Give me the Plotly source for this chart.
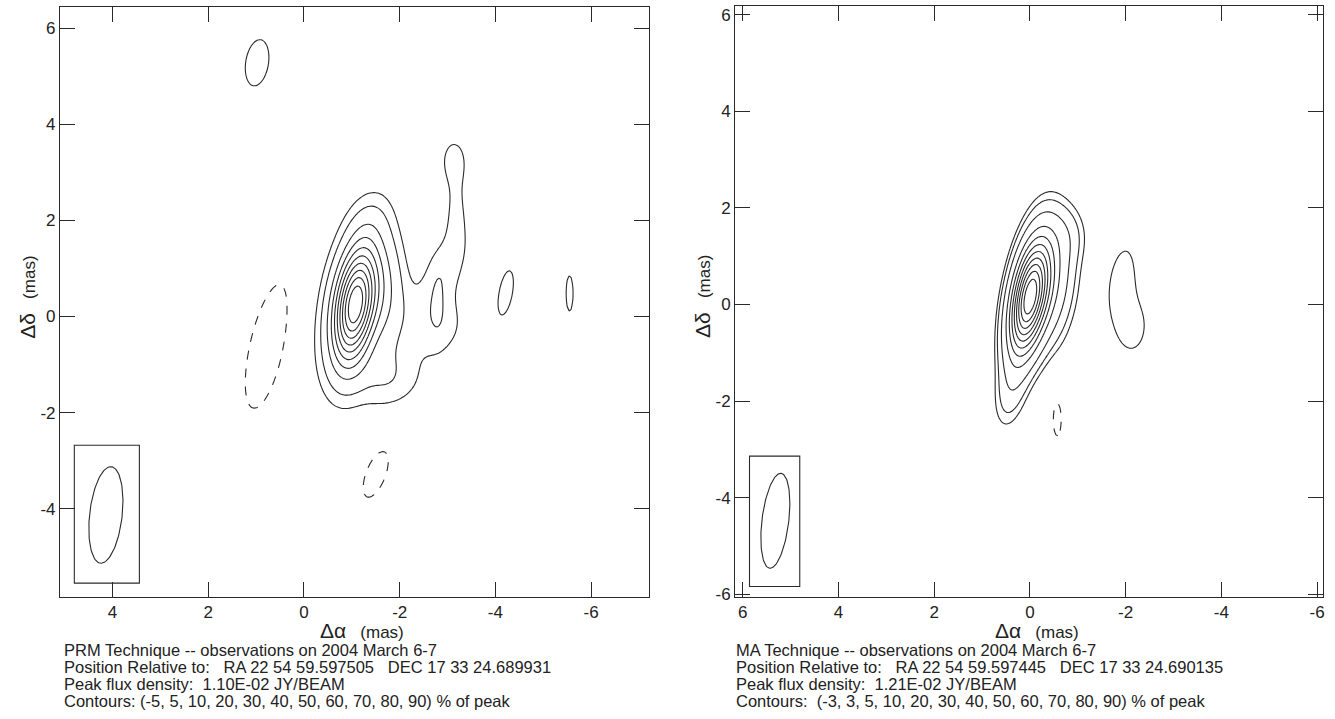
import numpy as np
import plotly.graph_objects as go

W, H = 1335, 719

# ---------------- data: source components ----------------
# Left map (PRM technique): x, y (mas), amplitude (% of peak), sigma major, sigma minor (mas), tilt (deg)
prm_x    = [-1.07, -0.95, -1.35, -1.72, -2.72, -2.80, -2.95, -3.18, -3.13, -1.75, 0.98, -4.22, -5.55, 0.76, -1.50]
prm_y    = [0.25, 0.10, 1.90, 0.50, -0.15, 0.30, 1.05, 2.20, 3.25, -1.30, 5.28, 0.50, 0.48, -0.60, -3.28]
prm_amp  = [87, 10, 6, 14, 7.5, 3.0, 7.0, 6.0, 6.5, 7.5, 7, 6.5, 5.3, -7, -7]
prm_smaj = [0.80, 1.15, 0.50, 0.90, 0.55, 0.50, 0.60, 0.60, 0.38, 0.45, 0.57, 0.60, 0.90, 1.58, 0.60]
prm_smin = [0.28, 0.52, 0.30, 0.28, 0.50, 0.12, 0.30, 0.16, 0.22, 0.55, 0.28, 0.18, 0.18, 0.43, 0.24]
prm_tilt = [8, 8, 15, 0, 0, 0, 20, 0, 0, 0, 9, 10, 0, 13, 21]

# Right map (MA technique)
ma_x    = [0.02, -0.40, -0.75, 0.40, -1.93, -2.12, -0.57]
ma_y    = [0.12, 0.50, 1.45, -1.80, 0.70, -0.45, -2.37]
ma_amp  = [93, 18, 4, 6, 3.4, 3.7, -3.7]
ma_smaj = [0.77, 0.85, 0.40, 0.55, 0.60, 0.72, 0.56]
ma_smin = [0.24, 0.33, 0.30, 0.22, 0.24, 0.42, 0.135]
ma_tilt = [10, 5, 0, 10, 10, 0, 0]

# Contour levels (% of peak)
prm_levels_neg = [-5]
prm_levels_low = [5]
prm_levels_main = [10, 20, 30, 40, 50, 60, 70, 80, 90]
ma_levels_neg = [-3]
ma_levels_low = [3, 5]
ma_levels_main = [10, 20, 30, 40, 50, 60, 70, 80, 90]

# Restoring beams: centre x, y, semi-major, semi-minor, tilt
prm_beam = dict(x=4.14, y=-4.13, a=1.01, b=0.34, tilt=6.5)
ma_beam = dict(x=5.32, y=-4.48, a=0.99, b=0.28, tilt=7.0)

SP = "\u00a0"
prm_text = ["PRM Technique -- observations on 2004 March 6-7",
            "Position Relative to:" + SP * 3 + "RA 22 54 59.597505" + SP * 3 + "DEC 17 33 24.689931",
            "Peak flux density:" + SP * 2 + "1.10E-02 JY/BEAM",
            "Contours: (-5, 5, 10, 20, 30, 40, 50, 60, 70, 80, 90) % of peak"]
ma_text = ["MA Technique -- observations on 2004 March 6-7",
           "Position Relative to:" + SP * 3 + "RA 22 54 59.597445" + SP * 3 + "DEC 17 33 24.690135",
           "Peak flux density:" + SP * 2 + "1.21E-02 JY/BEAM",
           "Contours:" + SP * 2 + "(-3, 3, 5, 10, 20, 30, 40, 50, 60, 70, 80, 90) % of peak"]

prm_xticks = [4, 2, 0, -2, -4, -6]
prm_yticks = [6, 4, 2, 0, -2, -4]
ma_xticks = [6, 4, 2, 0, -2, -4, -6]
ma_yticks = [6, 4, 2, 0, -2, -4, -6]


def field(xs, ys, cx, cy, amp, smaj, smin, tilt):
    X, Y = np.meshgrid(xs, ys)
    Z = np.zeros_like(X)
    for x0, y0, a, sa, sb, t in zip(cx, cy, amp, smaj, smin, tilt):
        th = np.radians(t)
        dx, dy = X - x0, Y - y0
        u = -dx * np.sin(th) + dy * np.cos(th)
        v = dx * np.cos(th) + dy * np.sin(th)
        Z += a * np.exp(-0.5 * ((u / sa) ** 2 + (v / sb) ** 2))
    return 100.0 * Z / Z.max()


def levels_spec(levels):
    if len(levels) == 1:
        return dict(start=levels[0], end=levels[0] + 0.5 * abs(levels[0]), size=10)
    step = levels[1] - levels[0]
    return dict(start=levels[0], end=levels[-1], size=step)


def beam_xy(b):
    t = np.linspace(0, 2 * np.pi, 121)
    th = np.radians(b["tilt"])
    ux, uy = -np.sin(th), np.cos(th)
    vx, vy = np.cos(th), np.sin(th)
    xs = b["x"] + b["a"] * np.cos(t) * ux + b["b"] * np.sin(t) * vx
    ys = b["y"] + b["a"] * np.cos(t) * uy + b["b"] * np.sin(t) * vy
    return xs, ys


fig = go.Figure()
LC = "#2a2a2a"

lx = np.arange(-6.3, 1.9, 0.04)
ly = np.arange(-4.3, 6.3, 0.04)
lz = field(lx, ly, prm_x, prm_y, prm_amp, prm_smaj, prm_smin, prm_tilt).astype(np.float32)
rx = np.arange(-3.0, 1.3, 0.03)
ry = np.arange(-3.1, 2.9, 0.03)
rz = field(rx, ry, ma_x, ma_y, ma_amp, ma_smaj, ma_smin, ma_tilt).astype(np.float32)

for xs, ys, zs, axes, lvsets in [
    (lx, ly, lz, ("x", "y"), [(prm_levels_neg, "dash"), (prm_levels_low, "solid"), (prm_levels_main, "solid")]),
    (rx, ry, rz, ("x2", "y2"), [(ma_levels_neg, "dash"), (ma_levels_low, "solid"), (ma_levels_main, "solid")]),
]:
    for lv, dash in lvsets:
        c = levels_spec(lv)
        c.update(coloring="none", showlabels=False)
        fig.add_trace(go.Contour(
            x=xs, y=ys, z=zs, xaxis=axes[0], yaxis=axes[1],
            autocontour=False, contours=c, showscale=False,
            line=dict(color=LC, width=1.1, dash=dash, smoothing=0.85),
            hoverinfo="skip"))

for b, axes in [(prm_beam, ("x", "y")), (ma_beam, ("x2", "y2"))]:
    bx, by = beam_xy(b)
    fig.add_trace(go.Scatter(x=bx, y=by, mode="lines", xaxis=axes[0], yaxis=axes[1],
                             line=dict(color=LC, width=1.1), hoverinfo="skip", showlegend=False))

fig.add_shape(type="rect", xref="x", yref="y", x0=4.80, x1=3.44, y0=-5.55, y1=-2.68,
              line=dict(color=LC, width=1.1))
fig.add_shape(type="rect", xref="x2", yref="y2", x0=5.86, x1=4.81, y0=-5.84, y1=-3.14,
              line=dict(color=LC, width=1.1))

FONT = "Liberation Sans, Arial, sans-serif"
TICKF = dict(family=FONT, size=17, color="#222")

def ax(rng, dom, tv, anchor):
    return dict(range=rng, domain=dom, tickvals=tv, ticktext=[str(v) for v in tv],
                showgrid=False, zeroline=False, showline=True, mirror="ticks",
                linecolor=LC, linewidth=1, ticks="inside", ticklen=15, tickwidth=1,
                tickcolor=LC, tickfont=TICKF, anchor=anchor, fixedrange=True)

FY = 1.014  # vertical page-pixel correction


def py(v):
    return 1 - FY * v / H


# plot frames in page pixels
L = dict(x0=60, x1=649, y0=7, y1=595)
R = dict(x0=735.7, x1=1324.3, y0=6, y1=595)

fig.update_layout(
    width=W, height=H, margin=dict(l=0, r=0, t=0, b=0),
    paper_bgcolor="white", plot_bgcolor="white", showlegend=False,
    xaxis=ax([5.10, -7.20], [L["x0"] / W, L["x1"] / W], prm_xticks, "y"),
    yaxis=ax([-5.83, 6.44], [py(L["y1"]), py(L["y0"])], prm_yticks, "x"),
    xaxis2=ax([6.16, -6.13], [R["x0"] / W, R["x1"] / W], ma_xticks, "y2"),
    yaxis2=ax([-6.05, 6.18], [py(R["y1"]), py(R["y0"])], ma_yticks, "x2"),
)

ann = []
for P in (L, R):
    cx = (P["x0"] + P["x1"]) / 2 + 8
    ann.append(dict(x=cx / W, y=py(628.5), xref="paper", yref="paper", showarrow=False,
                    xanchor="center", yanchor="middle",
                    text="<span style='font-size:21px'>\u0394\u03b1</span>" + SP * 3 + "(mas)",
                    font=dict(family=FONT, size=17, color="#222")))
    ann.append(dict(x=(P["x0"] - 32) / W, y=py(296), xref="paper", yref="paper", showarrow=False,
                    xanchor="center", yanchor="middle", textangle=-90,
                    text="<span style='font-size:21px'>\u0394\u03b4</span>" + SP * 3 + "(mas)",
                    font=dict(family=FONT, size=17, color="#222")))
for lines, x0 in ((prm_text, 62), (ma_text, 735)):
    for i, t in enumerate(lines):
        ann.append(dict(x=x0 / W, y=py(648.5 + 17 * i), xref="paper", yref="paper",
                        showarrow=False, xanchor="left", yanchor="middle", text=t,
                        font=dict(family=FONT, size=16.5, color="#222")))
fig.update_layout(annotations=ann)

fig.write_html("out.html", config={"displayModeBar": False},
               post_script="document.body.style.margin='0px';")
